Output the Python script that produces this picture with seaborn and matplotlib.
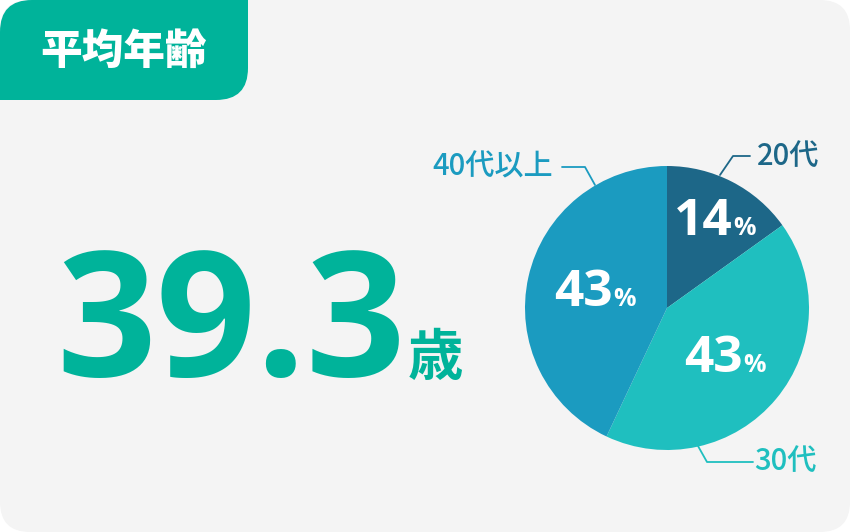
import matplotlib

matplotlib.use("Agg")
import matplotlib.pyplot as plt
import seaborn as sns
from matplotlib.patches import FancyBboxPatch, Rectangle

# data
title = "平均年齢"
avg_age = "39.3"
age_unit = "歳"
groups = ["20代", "30代", "40代以上"]
shares = [15.1, 41.9, 43.0]
share_labels = ["14", "43", "43"]
colors = ["#1d6788", "#1fbfbf", "#1b9bc0"]
label_colors = ["#1d6788", "#1fbfbf", "#1b9bc0"]
green = "#00b39a"
num_font = ["Open Sans", "DejaVu Sans"]

sns.set_theme(style="white")
plt.rcParams["font.family"] = ["Noto Sans CJK JP", "DejaVu Sans"]

W, H = 850, 532
fig = plt.figure(figsize=(W / 100, H / 100), dpi=100)
fig.patch.set_facecolor("white")

bg = fig.add_axes([0, 0, 1, 1])
bg.set_xlim(0, W)
bg.set_ylim(H, 0)
bg.axis("off")

# card + tab
bg.add_patch(FancyBboxPatch((0, 0), W, H, boxstyle="round,pad=0,rounding_size=30",
                            fc="#f4f4f4", ec="none"))
bg.add_patch(FancyBboxPatch((0, 0), 248, 100, boxstyle="round,pad=0,rounding_size=32",
                            fc=green, ec="none"))
bg.add_patch(Rectangle((200, 0), 48, 40, fc=green, ec="none"))
bg.add_patch(Rectangle((0, 60), 40, 40, fc=green, ec="none"))
bg.text(124, 52, title, color="white", fontsize=30, fontweight="heavy",
        ha="center", va="center")

# big number
bg.text(56, 376, avg_age, color=green, fontsize=126, fontweight="bold",
        family=num_font, ha="left", va="baseline")
bg.text(408, 375, age_unit, color=green, fontsize=40, fontweight="bold",
        ha="left", va="baseline")

# pie
cx, cy, r = 667, 308, 142
ax = fig.add_axes([(cx - r) / W, (H - cy - r) / H, 2 * r / W, 2 * r / H])
ax.set_facecolor("none")
ax.pie(shares, colors=colors, startangle=90, counterclock=False, radius=1,
       wedgeprops=dict(linewidth=0))
ax.set_xlim(-1, 1)
ax.set_ylim(-1, 1)
ax.axis("off")

# leader lines + labels
leaders = [
    [(720, 175), (733, 156), (750, 156)],
    [(698, 446), (707, 462), (753, 462)],
    [(595, 185), (585, 167), (562, 167)],
]
label_pos = [(757, 156, "left"), (754, 461, "left"), (553, 167, "right")]
for pts, (x, y, ha), g, c in zip(leaders, label_pos, groups, label_colors):
    xs, ys = zip(*pts)
    bg.plot(xs, ys, color=c, lw=1.3, zorder=5)
    bg.text(x, y, g, color=c, fontsize=21, fontweight="medium",
            ha=ha, va="center", zorder=5)

bg.set_zorder(0)
ax.set_zorder(1)

# percentages over the pie
top = fig.add_axes([0, 0, 1, 1])
top.set_xlim(0, W)
top.set_ylim(H, 0)
top.axis("off")
top.set_zorder(2)
pct_pos = [(703, 218), (583, 289), (713, 355)]
for (x, y), s in zip(pct_pos, share_labels):
    top.text(x, y + 17, s, color="white", fontsize=37, fontweight="bold",
             family=num_font, ha="center", va="baseline")
    top.text(x + 30, y + 17, "%", color="white", fontsize=18, fontweight="bold",
             family=num_font, ha="left", va="baseline")

fig.savefig("out.png", dpi=100)
